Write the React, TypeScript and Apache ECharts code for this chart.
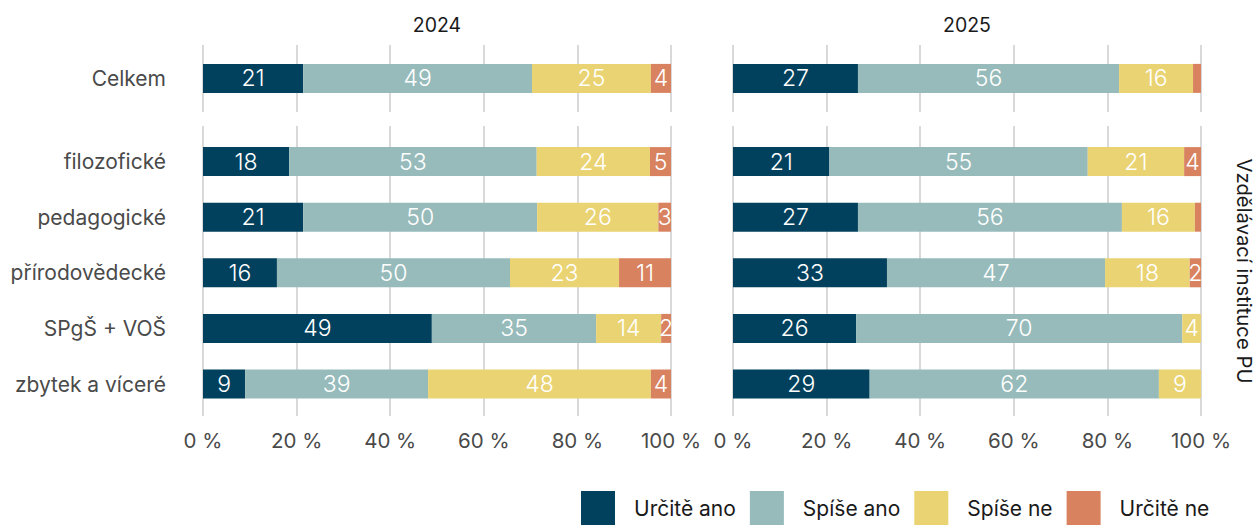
import React, { useEffect, useRef } from "react";
import * as echarts from "echarts";

const years = ["2024", "2025"];
const levels = ["Určitě ano", "Spíše ano", "Spíše ne", "Určitě ne"];
const colors = ["#02415D", "#97BBBB", "#EAD372", "#D8825F"];
const topCategory = ["Celkem"];
const categories = ["filozofické", "pedagogické", "přírodovědecké", "SPgŠ + VOŠ", "zbytek a víceré"];
const stripLabel = "Vzdělávací instituce PU";

// share of answers (%) per level, Celkem
const celkem2024 = [21.4, 48.9, 25.4, 4.3];
const celkem2025 = [26.7, 55.8, 15.8, 1.7];

// per category, order as `categories`; each array = one level
const urcite_ano_2024 = [18.4, 21.4, 15.8, 48.9, 9.0];
const spise_ano_2024 = [52.9, 50.0, 49.8, 35.1, 39.1];
const spise_ne_2024 = [24.2, 25.9, 23.3, 13.9, 47.6];
const urcite_ne_2024 = [4.5, 2.7, 11.1, 2.1, 4.3];

const urcite_ano_2025 = [20.6, 26.7, 32.9, 26.3, 29.2];
const spise_ano_2025 = [55.2, 56.4, 46.6, 69.7, 61.8];
const spise_ne_2025 = [20.6, 15.6, 18.1, 4.0, 9.0];
const urcite_ne_2025 = [3.6, 1.3, 2.4, 0, 0];

const byYear = [
  { top: celkem2024, bottom: [urcite_ano_2024, spise_ano_2024, spise_ne_2024, urcite_ne_2024] },
  { top: celkem2025, bottom: [urcite_ano_2025, spise_ano_2025, spise_ne_2025, urcite_ne_2025] },
];

const FONT = "Inter";
const TXT = "#4a4a4a";

export default function App() {
  const ref = useRef<HTMLDivElement>(null);
  useEffect(() => {
    document.body.style.margin = "0";
    if (!ref.current) return;
    const chart = echarts.init(ref.current, null, { renderer: "svg" });

    const panelLeft = [203, 733];
    const panelW = 468;
    const grids: any[] = [];
    const xAxes: any[] = [];
    const yAxes: any[] = [];
    const series: any[] = [];

    const baseGrid = { containLabel: false, outerBoundsMode: "none" };

    // background grids (gridlines and x labels)
    years.forEach((_, yi) => {
      grids.push({ ...baseGrid, left: panelLeft[yi], top: 45, width: panelW, height: 67 });
      grids.push({ ...baseGrid, left: panelLeft[yi], top: 126, width: panelW, height: 290 });
    });
    grids.forEach((g, gi) => {
      const isBottom = gi % 2 === 1;
      xAxes.push({
        type: "value", gridIndex: gi, min: 0, max: 100, interval: 20,
        axisLine: { show: false }, axisTick: { show: false },
        splitLine: { show: true, lineStyle: { color: "#d9d9d9", width: 2 } },
        axisLabel: {
          show: isBottom, formatter: "{value} %", color: TXT, fontSize: 20.5,
          fontFamily: FONT, margin: 14,
        },
      });
      yAxes.push({ type: "value", gridIndex: gi, show: false, min: 0, max: 1 });
    });

    // bar grids
    years.forEach((_, yi) => {
      const topIdx = grids.length;
      grids.push({ ...baseGrid, left: panelLeft[yi], top: 50.6, width: panelW, height: 55.6 });
      const botIdx = grids.length;
      grids.push({ ...baseGrid, left: panelLeft[yi], top: 133.8, width: panelW, height: 278 });

      [topIdx, botIdx].forEach((gi, k) => {
        xAxes.push({ type: "value", gridIndex: gi, min: 0, max: 100, show: false });
        yAxes.push({
          type: "category", gridIndex: gi, inverse: true,
          data: k === 0 ? topCategory : categories,
          axisLine: { show: false }, axisTick: { show: false },
          axisLabel: { show: yi === 0, color: TXT, fontSize: 21, fontFamily: FONT, margin: 37 },
        });
      });

      const d = byYear[yi];
      levels.forEach((lv, li) => {
        const label = {
          show: true, position: "inside", color: "#ffffff", fontSize: 23, fontFamily: FONT,
          fontWeight: 300,
          formatter: (p: any) => (p.value < 2 ? "" : String(Math.round(p.value))),
        };
        series.push({
          type: "bar", name: lv, stack: "t" + yi, xAxisIndex: topIdx, yAxisIndex: topIdx,
          data: [d.top[li]], barWidth: 29, itemStyle: { color: colors[li] }, label,
        });
        series.push({
          type: "bar", name: lv, stack: "b" + yi, xAxisIndex: botIdx, yAxisIndex: botIdx,
          data: d.bottom[li], barWidth: 29, itemStyle: { color: colors[li] }, label,
        });
      });
    });

    const graphic: any[] = years.map((y, yi) => ({
      type: "text", x: panelLeft[yi] + panelW / 2, y: 25,
      style: { text: y, textAlign: "center", textVerticalAlign: "middle", fontSize: 19.5, fontFamily: FONT, fill: "#1a1a1a" },
    }));
    graphic.push({
      type: "text", x: 1244, y: 271, rotation: -Math.PI / 2,
      style: { text: stripLabel, textAlign: "center", textVerticalAlign: "middle", fontSize: 20.3, fontFamily: FONT, fill: "#1a1a1a" },
    });

    chart.setOption({
      animation: false,
      backgroundColor: "#ffffff",
      grid: grids,
      xAxis: xAxes,
      yAxis: yAxes,
      series,
      graphic,
      legend: {
        data: levels, left: 581, top: 491, padding: 0, icon: "rect", itemWidth: 34, itemHeight: 34,
        itemGap: 14, selectedMode: false,
        textStyle: { fontSize: 21, fontFamily: FONT, color: "#1a1a1a", padding: [0, 0, 0, 14] },
      },
    });
    return () => chart.dispose();
  }, []);
  return <div ref={ref} style={{ width: 1255, height: 525 }} />;
}
